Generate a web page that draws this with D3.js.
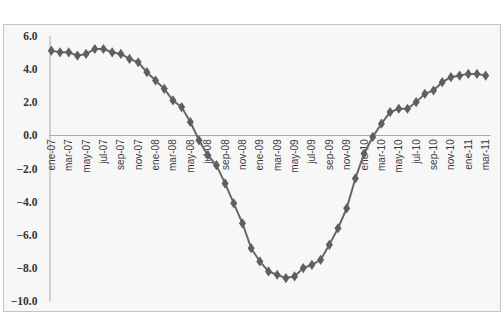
<!DOCTYPE html>
<html>
<head>
<meta charset="utf-8">
<script src="https://cdn.jsdelivr.net/npm/d3@7"></script>
<style>
  body { margin: 0; background: #fff; }
</style>
</head>
<body>
<div id="chart"></div>
<script>
var MONTHS = ["ene", "feb", "mar", "abr", "may", "jun", "jul", "ago", "sep", "oct", "nov", "dic"];
var YEARS = ["07", "08", "09", "10", "11"];
var CATEGORIES = [];
YEARS.forEach(function(y){
  MONTHS.forEach(function(m){ CATEGORIES.push(m + "-" + y); });
});
CATEGORIES = CATEGORIES.slice(0, 51); // ene-07 .. mar-11

var VALUES = [
  5.1, 5.0, 5.0, 4.8, 4.9, 5.2, 5.2, 5.0, 4.9, 4.6, 4.4, 3.8,
  3.3, 2.8, 2.1, 1.7, 0.8, -0.3, -1.2, -1.8, -2.9, -4.1, -5.3, -6.8,
  -7.6, -8.2, -8.4, -8.6, -8.5, -8.0, -7.8, -7.5, -6.6, -5.6, -4.4, -2.6,
  -1.1, -0.1, 0.7, 1.4, 1.6, 1.6, 2.0, 2.5, 2.7, 3.2, 3.5, 3.6,
  3.7, 3.7, 3.6
];

var Y_TICKS = [6, 4, 2, 0, -2, -4, -6, -8, -10];

var Chart = {
  W: 504,
  H: 314,
  LEFT: 47,
  RIGHT: 490,
  TOP: 35.7,
  BOTTOM: 301.3,

  svg: null,
  x: null,
  y: null,

  build: function(){
    this.svg = d3.select("#chart")
      .append("svg")
      .attr("width", this.W)
      .attr("height", this.H);

    // chart frame
    this.svg.append("rect")
      .attr("x", 3.5).attr("y", 24.5)
      .attr("width", 497).attr("height", 287)
      .attr("fill", "#f7f7f7")
      .attr("stroke", "#c4c4c4")
      .attr("stroke-width", 1);

    this.x = d3.scaleBand()
      .domain(CATEGORIES)
      .range([this.LEFT, this.RIGHT]);

    this.y = d3.scaleLinear()
      .domain([-10, 6])
      .range([this.BOTTOM, this.TOP]);
  },

  drawAxes: function(){
    var that = this;

    // y axis
    var yAxis = d3.axisLeft(this.y)
      .tickValues(Y_TICKS)
      .tickSize(0)
      .tickPadding(12)
      .tickFormat(d3.format(".1f"));
    var gy = this.svg.append("g")
      .attr("transform", "translate(49.5,0)")
      .call(yAxis)
      .attr("font-family", "'Liberation Serif', 'DejaVu Serif', serif")
      .attr("font-size", 11.5)
      .attr("font-weight", "bold");
    gy.select(".domain").attr("stroke", "#aaa");
    gy.selectAll("text").attr("fill", "#333");

    // zero line
    this.svg.append("line")
      .attr("x1", 49.5).attr("x2", this.RIGHT + 0.5)
      .attr("y1", Math.round(this.y(0)) + 0.5)
      .attr("y2", Math.round(this.y(0)) + 0.5)
      .attr("stroke", "#aaa");

    // x labels every two months
    var labels = CATEGORIES.filter(function(d, i){ return i % 2 == 0; });
    this.svg.append("g")
      .attr("font-family", "'Liberation Sans', Arial, sans-serif")
      .attr("font-size", 10)
      .attr("fill", "#3a3a3a")
      .selectAll("text")
      .data(labels)
      .enter().append("text")
      .attr("text-anchor", "end")
      .attr("dy", "0.35em")
      .attr("transform", function(d){
        var cx = that.x(d) + that.x.bandwidth() / 2;
        return "translate(" + cx + "," + (that.y(0) + 4) + ") rotate(-90)";
      })
      .text(function(d){ return d; });
  },

  drawLine: function(){
    var that = this;
    var cx = function(d, i){ return that.x(CATEGORIES[i]) + that.x.bandwidth() / 2; };

    var line = d3.line()
      .x(cx)
      .y(function(d){ return that.y(d); });

    this.svg.append("path")
      .datum(VALUES)
      .attr("fill", "none")
      .attr("stroke", "#676767")
      .attr("stroke-width", 2)
      .attr("d", line);

    var diamond = d3.symbol().type(d3.symbolDiamond).size(30);
    this.svg.append("g").selectAll("path")
      .data(VALUES)
      .enter().append("path")
      .attr("d", diamond)
      .attr("fill", "#5f5f5f")
      .attr("transform", function(d, i){
        return "translate(" + cx(d, i) + "," + that.y(d) + ") scale(1.2,1)";
      });
  }
};

Chart.build();
Chart.drawAxes();
Chart.drawLine();
</script>
</body>
</html>
